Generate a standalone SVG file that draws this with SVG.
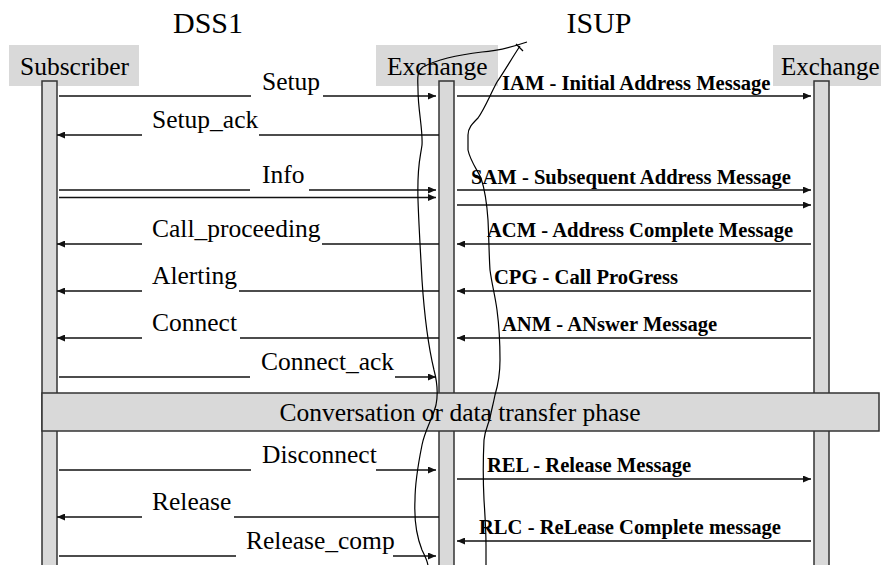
<svg xmlns="http://www.w3.org/2000/svg" width="881" height="565" viewBox="0 0 881 565">
<style>
.t{font-family:"Liberation Serif","Times New Roman",serif;fill:#000}
.title{font-size:30px}
.lbl{font-size:25.5px}
.b{font-size:20.6px;font-weight:bold}
.box{fill:#d9d9d9;stroke:none}
.bar{fill:#d9d9d9;stroke:#333;stroke-width:1.5}
.m{stroke:#111;stroke-width:1.3;fill:none}
.a{marker-end:url(#ah)}
.sc{fill:none;stroke:#000;stroke-width:1.2}
</style>
<defs>
<marker id="ah" markerWidth="8" markerHeight="7" refX="8" refY="3.5" orient="auto" markerUnits="userSpaceOnUse"><path d="M0,0 L8,3.5 L0,7 z" fill="#111"/></marker>
</defs>
<rect width="881" height="565" fill="#fff"/>
<g id="titles">
<text class="t title" x="208" y="33" text-anchor="middle">DSS1</text>
<text class="t title" x="599" y="33" text-anchor="middle">ISUP</text>
</g>
<g id="subscriber">
<rect class="box" x="9" y="45" width="130" height="41"/>
<text class="t lbl" x="20" y="75">Subscriber</text>
<rect class="bar" x="42" y="81" width="15" height="490"/>
</g>
<g id="exchange-local">
<rect class="box" x="376" y="45" width="122" height="41"/>
<text class="t lbl" x="387" y="75">Exchange</text>
<rect class="bar" x="439" y="81" width="15" height="490"/>
</g>
<g id="exchange-remote">
<rect class="box" x="773" y="45" width="110" height="41"/>
<text class="t lbl" x="781" y="75" style="font-size:25px">Exchange</text>
<rect class="bar" x="814" y="81" width="15" height="490"/>
</g>
<g id="phase">
<rect class="bar" x="42" y="393" width="837" height="38"/>
<text class="t lbl" x="460" y="421" text-anchor="middle">Conversation or data transfer phase</text>
</g>
<g id="connectors">
<g id="setup"><line class="m" x1="59" y1="96" x2="251" y2="96"/><text class="t lbl" x="262" y="90">Setup</text><line class="m a" x1="323" y1="96" x2="436" y2="96"/></g>
<g id="setup_ack"><line class="m a" x1="142" y1="135" x2="57" y2="135"/><text class="t lbl" x="152" y="128">Setup_ack</text><line class="m" x1="259" y1="135" x2="439" y2="135"/></g>
<g id="info"><line class="m" x1="59" y1="190" x2="250" y2="190"/><text class="t lbl" x="262" y="183">Info</text><line class="m a" x1="309" y1="190" x2="436" y2="190"/><line class="m a" x1="59" y1="197.5" x2="436" y2="197.5"/></g>
<g id="call_proceeding"><line class="m a" x1="142" y1="244" x2="57" y2="244"/><text class="t lbl" x="152" y="237">Call_proceeding</text><line class="m" x1="322" y1="244" x2="439" y2="244"/></g>
<g id="alerting"><line class="m a" x1="142" y1="291" x2="57" y2="291"/><text class="t lbl" x="152" y="284">Alerting</text><line class="m" x1="239" y1="291" x2="439" y2="291"/></g>
<g id="connect"><line class="m a" x1="142" y1="338" x2="57" y2="338"/><text class="t lbl" x="152" y="331">Connect</text><line class="m" x1="240" y1="338" x2="439" y2="338"/></g>
<g id="connect_ack"><line class="m" x1="59" y1="377" x2="250" y2="377"/><text class="t lbl" x="261" y="370">Connect_ack</text><line class="m a" x1="395" y1="377" x2="436" y2="377"/></g>
<g id="disconnect"><line class="m" x1="59" y1="470" x2="251" y2="470"/><text class="t lbl" x="262" y="463">Disconnect</text><line class="m a" x1="376" y1="470" x2="436" y2="470"/></g>
<g id="release"><line class="m a" x1="142" y1="517" x2="57" y2="517"/><text class="t lbl" x="152" y="510">Release</text><line class="m" x1="234" y1="517" x2="439" y2="517"/></g>
<g id="release_comp"><line class="m" x1="59" y1="556" x2="236" y2="556"/><text class="t lbl" x="246" y="549">Release_comp</text><line class="m a" x1="393" y1="556" x2="436" y2="556"/></g>
<g id="iam"><line class="m a" x1="457" y1="96" x2="811" y2="96"/><text class="t b" x="502" y="90">IAM - Initial Address Message</text></g>
<g id="sam"><line class="m a" x1="457" y1="190" x2="811" y2="190"/><line class="m a" x1="457" y1="205" x2="811" y2="205"/><text class="t b" x="471" y="184">SAM - Subsequent Address Message</text></g>
<g id="acm"><line class="m a" x1="811" y1="244" x2="457" y2="244"/><text class="t b" x="487" y="237">ACM - Address Complete Message</text></g>
<g id="cpg"><line class="m a" x1="811" y1="291" x2="457" y2="291"/><text class="t b" x="494" y="284">CPG - Call ProGress</text></g>
<g id="anm"><line class="m a" x1="811" y1="338" x2="457" y2="338"/><text class="t b" x="502" y="331">ANM - ANswer Message</text></g>
<g id="rel"><line class="m a" x1="457" y1="479" x2="811" y2="479"/><text class="t b" x="487" y="472">REL - Release Message</text></g>
<g id="rlc"><line class="m a" x1="811" y1="541" x2="457" y2="541"/><text class="t b" x="479" y="534">RLC - ReLease Complete message</text></g>
</g>
<g id="cut-marks">
<path class="sc" d="M527,42 C515,46 500,51 482,52 C465,54 440,58 423,67 C416,72 418,80 418,90 C418,110 423,130 422,145 C420,160 417,165 418,200 C419,230 421,260 422,280 C424,310 428,345 434,370 C438,385 438,395 436,405 C432,420 425,430 422,445 C418,465 415,485 415,500 C414,520 416,535 422,550 C426,558 428,562 428,566"/>
<path class="sc" d="M520,46 C512,58 504,72 497,82 C490,95 485,108 478,118 C472,124 468,128 468,135 L468,150 C470,160 476,168 481,178 C485,190 487,205 488,220 C489,240 489,255 490,270 C492,285 495,295 497,310 C499,325 500,340 500,360 C500,375 498,385 495,395 C493,405 491,412 490,418 C488,425 485,430 484,440 C483,460 483,480 484,500 C485,515 486,530 486,545 L486,566"/>
<path class="sc" d="M516,44 L523,51"/>
</g>
</svg>
